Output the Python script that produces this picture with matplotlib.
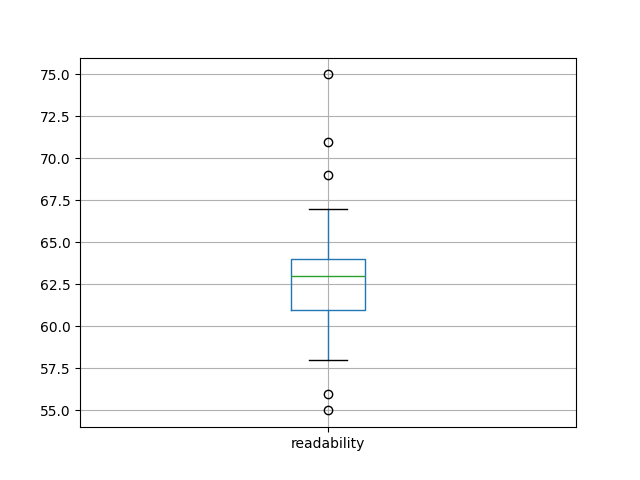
import matplotlib
matplotlib.use("Agg")
import matplotlib.pyplot as plt
import pandas as pd

# sample readability scores (chosen to reproduce the quartiles/whiskers/outliers)
readability = [55, 56, 58, 60, 61, 61, 62, 63, 63, 63, 64, 64, 64, 67, 69, 71, 75]

df = pd.DataFrame({"readability": readability})

fig, ax = plt.subplots(figsize=(6.4, 4.8), dpi=100)
df.boxplot(column="readability", ax=ax)
fig.savefig("out.png", dpi=100)
